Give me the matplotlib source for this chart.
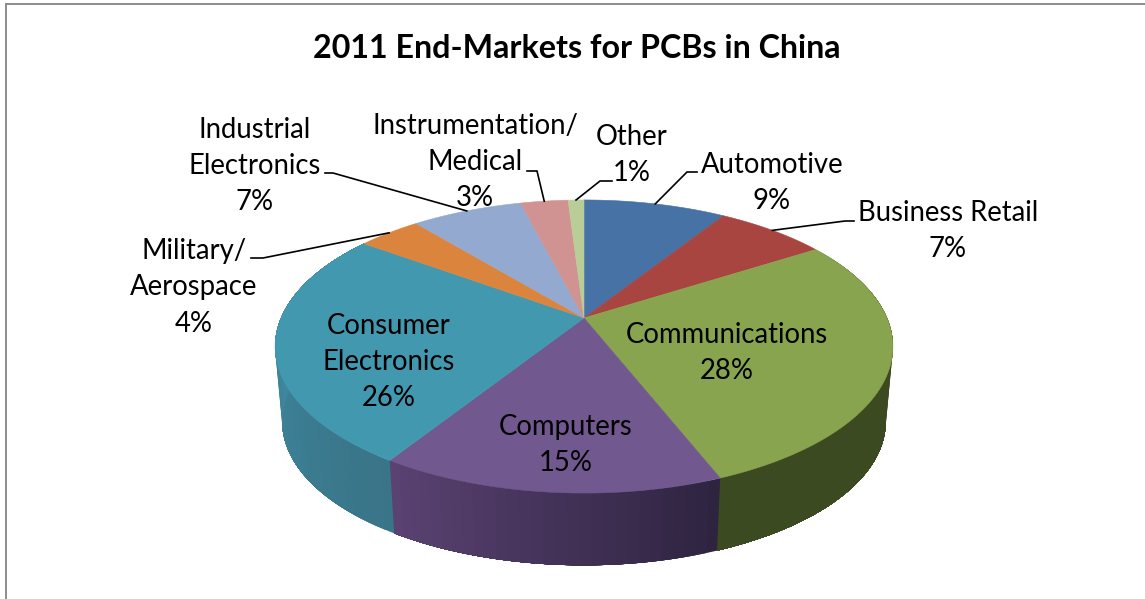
import numpy as np
import matplotlib
matplotlib.use("Agg")
import matplotlib.pyplot as plt
from matplotlib.patches import Polygon

title = "2011 End-Markets for PCBs in China"
names = ["Automotive", "Business Retail", "Communications", "Computers",
         "Consumer\nElectronics", "Military/\nAerospace",
         "Industrial\nElectronics", "Instrumentation/\nMedical", "Other"]
shares = [9, 7, 28, 15, 26, 4, 7, 3, 1]

top_colors = ["#4672A5", "#A84541", "#89A44E", "#71588F", "#4198AF",
              "#DB843D", "#93A9CF", "#D19392", "#B9CD96"]
side_left = ["#2F4D70", "#702E2B", "#3C4A22", "#5A4272", "#3F93AB",
             "#A0602C", "#6B7B97", "#98696A", "#87966D"]
side_right = ["#2F4D70", "#702E2B", "#3C4A1F", "#2E2440", "#3A7488",
              "#A0602C", "#6B7B97", "#98696A", "#87966D"]

# layout, in reference pixels
W, H = 1145, 599
CX, CY, RX, RY, K = 584, 318, 303, 141, 0.1945
CY_B, RX_B, RY_B = 394, 296, 138
label_xy = [(772, 183), (948, 231), (727, 353), (566, 445), (389, 362),
            (194, 287), (255, 166), (475, 162), (632, 155)]
leaders = {0: [(697, 172), (687, 172)], 1: [(854, 221), (845, 221)],
           5: [(251, 258), (263, 258)], 6: [(325, 173), (333, 173)],
           7: [(527, 171), (537, 171)], 8: [(612, 181), (600, 181)]}


def project(frac, cy, rx, ry):
    """Fraction of the turn, clockwise from 12 o'clock, to the perspective rim."""
    a = 2 * np.pi * np.asarray(frac)
    u, v = np.sin(a), np.cos(a)
    w = 1 + K * v
    return CX + rx * u / w, cy - ry * v / w


def mix(c1, c2, t):
    a = np.array(matplotlib.colors.to_rgb(c1))
    b = np.array(matplotlib.colors.to_rgb(c2))
    return tuple(a + (b - a) * t)


fig = plt.figure(figsize=(W / 100, H / 100), dpi=100)
ax = fig.add_axes([0, 0, 1, 1])
ax.set_xlim(0, W)
ax.set_ylim(H, 0)
ax.axis("off")

ax.plot([6, 6, W], [H, 4, 4], color="#8C8C8C", lw=1.4, solid_joinstyle="miter", zorder=1)

edges = np.cumsum([0] + shares) / sum(shares)
for i, (f0, f1) in enumerate(zip(edges[:-1], edges[1:])):
    if min(np.cos(2 * np.pi * f0), np.cos(2 * np.pi * f1)) > 0.3:
        continue
    steps = max(int((f1 - f0) * 200), 4)
    fr = np.linspace(f0, f1, steps + 1)
    for j in range(steps):
        # every band runs on to the end of the slice, later bands paint over it
        sub = np.linspace(fr[j], f1, 40)
        xt, yt = project(sub, CY, RX, RY)
        xb, yb = project(sub, CY_B, RX_B, RY_B)
        col = mix(side_right[i], side_left[i], j / max(steps - 1, 1))
        pts = list(zip(xt, yt)) + list(zip(xb[::-1], yb[::-1]))
        ax.add_patch(Polygon(pts, closed=True, facecolor=col, edgecolor="none",
                             lw=0, zorder=2))

for i, (f0, f1) in enumerate(zip(edges[:-1], edges[1:])):
    fr = np.linspace(f0, f1, 80)
    xt, yt = project(fr, CY, RX, RY)
    pts = [(CX, CY)] + list(zip(xt, yt))
    ax.add_patch(Polygon(pts, closed=True, facecolor=top_colors[i],
                         edgecolor=top_colors[i], lw=0.4, zorder=3))

for i, pts in leaders.items():
    fm = (edges[i] + edges[i + 1]) / 2
    xe, ye = project(fm, CY, RX, RY)
    xs = [p[0] for p in pts] + [float(xe)]
    ys = [p[1] for p in pts] + [float(ye)]
    ax.plot(xs, ys, color="black", lw=1.2, zorder=4, solid_joinstyle="miter")

font = "Lato"
ax.text(577, 49, title, ha="center", va="center", fontsize=23.2, fontweight="bold",
        family=font, color="black", zorder=5)
for name, s, (x, y) in zip(names, shares, label_xy):
    ax.text(x, y, f"{name}\n{s}%", ha="center", va="center", fontsize=19.8,
            family=font, color="black", linespacing=1.5, zorder=5)

fig.savefig("out.png", dpi=100)
